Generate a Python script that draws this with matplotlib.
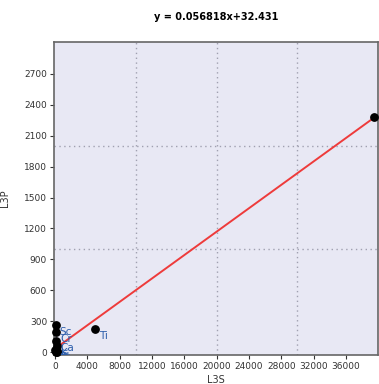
import numpy as np
import matplotlib.pyplot as plt

# data
names = ['U', 'Ti', 'Sc', 'Cr', 'Ca', 'K', 'Cl', 'S', 'P', 'Si']
l3s = [39480, 4950, 80, 150, 120, 200, 60, 250, 150, 300]
l3p = [2282, 225, 262, 194, 107, 55, 20, 8, 2, 0]
slope, intercept = 0.056818, 32.431

fig = plt.figure(figsize=[3.79, 3.84], dpi=100)
ax = fig.add_axes([0.1425, 0.0755, 0.855, 0.815])
ax.set_facecolor('#e8e8f4')

# fit line
xf = np.array([0, max(l3s)])
ax.plot(xf, slope*xf + intercept, color='#ee3b3b', lw=1.4, zorder=2)

ax.scatter(l3s, l3p, s=28, color='black', zorder=3, clip_on=False)
for n, x, y in zip(names, l3s, l3p):
    ax.annotate(n, (x, y), xytext=(3, -7), textcoords='offset points',
                fontsize=7.5, color='#2a5caa', clip_on=True, zorder=4)

for v in [10000, 20000, 30000]:
    ax.axvline(v, color='#a0a0b0', lw=1, ls=(0, (1, 2.5)), zorder=1)
for v in [1000, 2000]:
    ax.axhline(v, color='#a0a0b0', lw=1, ls=(0, (1, 2.5)), zorder=1)

ax.set_xlim(-124, 39975)
ax.set_ylim(-29, 3010)
ax.set_xticks(range(0, 40000, 4000))
ax.set_yticks(range(0, 3000, 300))
ax.tick_params(labelsize=6.5, colors='#333333', length=3, width=0.8, pad=2)
for s in ax.spines.values():
    s.set_color('#666666')
    s.set_linewidth(1.2)

ax.set_xlabel('L3S', fontsize=7, color='#333333', labelpad=3)
ax.set_ylabel('L3P', fontsize=7, color='#333333', labelpad=10)
fig.text(0.57, 0.955, 'y = 0.056818x+32.431', ha='center', va='center',
         fontsize=7, fontweight='bold')

plt.savefig('out.png', dpi=100)
